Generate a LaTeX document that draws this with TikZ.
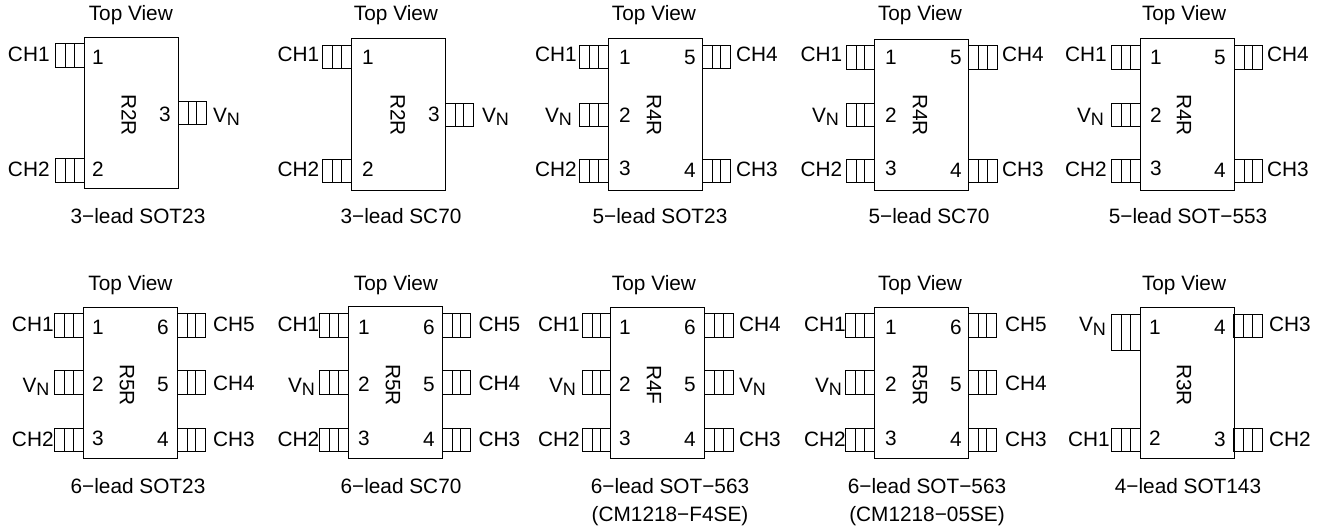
\documentclass[tikz,border=0pt]{standalone}
\usepackage{fontspec}
\setmainfont{Liberation Sans}
\newcommand{\VN}{V\raisebox{-3.5pt}{\fontsize{18}{20}\selectfont N}}
\tikzset{
  x=1pt,y=-1pt,
  every node/.style={inner sep=0pt,outer sep=0pt,font=\fontsize{20.8}{28}\selectfont},
  pkgbox/.style={draw,line width=1pt,anchor=north west,minimum width=94pt,minimum height=151.5pt},
  leadline/.style={line width=1pt},
  lab/.style={anchor=base west},
  pinno/.style={anchor=base},
  partmark/.style={anchor=center,rotate=-90,xshift=1pt},
  viewttl/.style={anchor=base},
  captxt/.style={anchor=base,align=center}
}
% body: id, left x, top y, top-view x, top-view baseline, mark x, mark y, mark text
\newcommand{\pkgbody}[8]{%
  \node[pkgbox] (#1) at (#2,#3) {};
  \node[viewttl] (#1t) at (#4,#5) {Top View};
  \node[partmark] (#1m) at (#6,#7) {#8};
}
\newcommand{\leadL}[3]{% body x, top y, height
  \draw[leadline] (#1-28.5,#2) rectangle (#1,#2+#3);
  \draw[leadline] (#1-18.5,#2) -- (#1-18.5,#2+#3) (#1-10,#2) -- (#1-10,#2+#3);
}
\newcommand{\leadR}[3]{%
  \draw[leadline] (#1,#2) rectangle (#1+28.5,#2+#3);
  \draw[leadline] (#1+10,#2) -- (#1+10,#2+#3) (#1+18.5,#2) -- (#1+18.5,#2+#3);
}
\begin{document}
\begin{tikzpicture}
\useasboundingbox (0,0) rectangle (1324,530);
% ---------- 3-lead SOT23
\pkgbody{a}{84.3}{37}{130.8}{20.7}{129}{114}{R2R}
\leadL{84.3}{43.3}{23.7}\leadL{84.3}{158.5}{23.7}\leadR{178.3}{101}{23.5}
\node[lab] (a1) at (8,61.7) {CH1};
\node[lab] (a2) at (8,176.7) {CH2};
\node[lab] (a3) at (213,122.3) {\VN};
\node[pinno] (a4) at (98,64) {1};
\node[pinno] (a5) at (98,176.7) {2};
\node[pinno] (a6) at (165,121.7) {3};
\node[captxt] (ac) at (138,223.3) {3−lead SOT23};
% ---------- 3-lead SC70
\pkgbody{b}{351}{38.5}{396}{20.7}{398}{114}{R2R}
\leadL{351}{45}{23.5}\leadL{351}{159}{23.5}\leadR{445}{103}{23.5}
\node[lab] (b1) at (277.5,61.7) {CH1};
\node[lab] (b2) at (277.5,176.7) {CH2};
\node[lab] (b3) at (482,122.3) {\VN};
\node[pinno] (b4) at (368,64) {1};
\node[pinno] (b5) at (368,176.7) {2};
\node[pinno] (b6) at (434,121.7) {3};
\node[captxt] (bc) at (401,223.3) {3−lead SC70};
% ---------- 5-lead SOT23
\pkgbody{c}{608}{38.5}{654}{20.7}{654}{114}{R4R}
\leadL{608}{45}{23.5}\leadL{608}{103}{23.5}\leadL{608}{159}{23.5}\leadR{702}{45}{23.5}\leadR{702}{159}{23.5}
\node[lab] (c1) at (535,61.7) {CH1};
\node[lab] (c2) at (545,122.3) {\VN};
\node[lab] (c3) at (535,176.7) {CH2};
\node[lab] (c4) at (736,61.7) {CH4};
\node[lab] (c5) at (736,176.7) {CH3};
\node[pinno] (c6) at (625,64) {1};
\node[pinno] (c7) at (625,122) {2};
\node[pinno] (c8) at (625,175) {3};
\node[pinno] (c9) at (690,64) {5};
\node[pinno] (c10) at (690,177) {4};
\node[captxt] (cc) at (660,223.3) {5−lead SOT23};
% ---------- 5-lead SC70
\pkgbody{d}{874.5}{39}{920}{20.7}{920}{114}{R4R}
\leadL{874.5}{45.5}{23.5}\leadL{874.5}{103}{23.5}\leadL{874.5}{159}{23.5}\leadR{968.5}{45.5}{23.5}\leadR{968.5}{159}{23.5}
\node[lab] (d1) at (800.5,61.7) {CH1};
\node[lab] (d2) at (812,122.3) {\VN};
\node[lab] (d3) at (800.5,176.7) {CH2};
\node[lab] (d4) at (1002,61.7) {CH4};
\node[lab] (d5) at (1002,176.7) {CH3};
\node[pinno] (d6) at (891,64) {1};
\node[pinno] (d7) at (891,122) {2};
\node[pinno] (d8) at (891,175) {3};
\node[pinno] (d9) at (956,64) {5};
\node[pinno] (d10) at (956,177) {4};
\node[captxt] (dc) at (929,223.3) {5−lead SC70};
% ---------- 5-lead SOT-553
\pkgbody{e}{1140}{38.5}{1184}{20.7}{1184}{114}{R4R}
\leadL{1140}{45.5}{23.5}\leadL{1140}{103}{23.5}\leadL{1140}{159}{23.5}\leadR{1234}{45.5}{23.5}\leadR{1234}{159}{23.5}
\node[lab] (e1) at (1065,61.7) {CH1};
\node[lab] (e2) at (1077,122.3) {\VN};
\node[lab] (e3) at (1065,176.7) {CH2};
\node[lab] (e4) at (1267,61.7) {CH4};
\node[lab] (e5) at (1267,176.7) {CH3};
\node[pinno] (e6) at (1156,64) {1};
\node[pinno] (e7) at (1156,122) {2};
\node[pinno] (e8) at (1156,175) {3};
\node[pinno] (e9) at (1220,64) {5};
\node[pinno] (e10) at (1220,177) {4};
\node[captxt] (ec) at (1188,223.3) {5−lead SOT−553};
% ---------- 6-lead SOT23
\pkgbody{f}{83}{307}{130.5}{290.7}{127}{384}{R5R}
\leadL{83}{313.5}{23.5}\leadL{83}{370.5}{23.5}\leadL{83}{428}{23.5}\leadR{177}{313.5}{23.5}\leadR{177}{370.5}{23.5}\leadR{177}{428}{23.5}
\node[lab] (f1) at (12,331.7) {CH1};
\node[lab] (f2) at (22.5,392) {\VN};
\node[lab] (f3) at (12,446.7) {CH2};
\node[lab] (f4) at (213,331.7) {CH5};
\node[lab] (f5) at (213,390.7) {CH4};
\node[lab] (f6) at (213,446.7) {CH3};
\node[pinno] (f7) at (98,334) {1};
\node[pinno] (f8) at (98,391.7) {2};
\node[pinno] (f9) at (98,445) {3};
\node[pinno] (f10) at (163,334) {6};
\node[pinno] (f11) at (163,391) {5};
\node[pinno] (f12) at (163,446.7) {4};
\node[captxt] (fc) at (138,493.3) {6−lead SOT23};
% ---------- 6-lead SC70
\pkgbody{g}{348}{306.5}{396}{290.7}{393}{384}{R5R}
\leadL{348}{313.5}{23.5}\leadL{348}{370.5}{23.5}\leadL{348}{428}{23.5}\leadR{442}{313.5}{23.5}\leadR{442}{370.5}{23.5}\leadR{442}{428}{23.5}
\node[lab] (g1) at (277.5,331.7) {CH1};
\node[lab] (g2) at (288,392) {\VN};
\node[lab] (g3) at (277.5,446.7) {CH2};
\node[lab] (g4) at (478.5,331.7) {CH5};
\node[lab] (g5) at (478.5,390.7) {CH4};
\node[lab] (g6) at (478.5,446.7) {CH3};
\node[pinno] (g7) at (364,334) {1};
\node[pinno] (g8) at (364,391.7) {2};
\node[pinno] (g9) at (364,445) {3};
\node[pinno] (g10) at (429,334) {6};
\node[pinno] (g11) at (429,391) {5};
\node[pinno] (g12) at (429,446.7) {4};
\node[captxt] (gc) at (401,493.3) {6−lead SC70};
% ---------- 6-lead SOT-563 F4SE
\pkgbody{h}{610.5}{307}{654}{290.7}{654}{384}{R4F}
\leadL{610.5}{313.5}{23.5}\leadL{610.5}{370.5}{23.5}\leadL{610.5}{428}{23.5}\leadR{704.5}{313.5}{23.5}\leadR{704.5}{370.5}{23.5}\leadR{704.5}{428}{23.5}
\node[lab] (h1) at (538,331.7) {CH1};
\node[lab] (h2) at (549,392) {\VN};
\node[lab] (h3) at (538,446.7) {CH2};
\node[lab] (h4) at (739,331.7) {CH4};
\node[lab] (h5) at (739,392) {\VN};
\node[lab] (h6) at (739,446.7) {CH3};
\node[pinno] (h7) at (625,334) {1};
\node[pinno] (h8) at (625,391.7) {2};
\node[pinno] (h9) at (625,445) {3};
\node[pinno] (h10) at (690,334) {6};
\node[pinno] (h11) at (690,391) {5};
\node[pinno] (h12) at (690,446.7) {4};
\node[captxt] (hc) at (670,493.3) {6−lead SOT−563};
\node[captxt] (hd) at (670,521) {(CM1218−F4SE)};
% ---------- 6-lead SOT-563 05SE
\pkgbody{i}{874}{307}{920}{290.7}{920}{384}{R5R}
\leadL{874}{313.5}{23.5}\leadL{874}{370.5}{23.5}\leadL{874}{428}{23.5}\leadR{968}{313.5}{23.5}\leadR{968}{370.5}{23.5}\leadR{968}{428}{23.5}
\node[lab] (i1) at (804,331.7) {CH1};
\node[lab] (i2) at (815,392) {\VN};
\node[lab] (i3) at (804,446.7) {CH2};
\node[lab] (i4) at (1005,331.7) {CH5};
\node[lab] (i5) at (1005,390.7) {CH4};
\node[lab] (i6) at (1005,446.7) {CH3};
\node[pinno] (i7) at (891,334) {1};
\node[pinno] (i8) at (891,391.7) {2};
\node[pinno] (i9) at (891,445) {3};
\node[pinno] (i10) at (956,334) {6};
\node[pinno] (i11) at (956,391) {5};
\node[pinno] (i12) at (956,446.7) {4};
\node[captxt] (ic) at (927,493.3) {6−lead SOT−563};
\node[captxt] (id) at (927,521) {(CM1218−05SE)};
% ---------- 4-lead SOT143
\pkgbody{j}{1140}{307}{1184}{290.7}{1184}{384}{R3R}
\leadL{1140}{314}{36.5}\leadL{1140}{428}{23.5}\leadR{1233.5}{314}{23.5}\leadR{1233.5}{428}{23.5}
\node[lab] (j1) at (1079,331.7) {\VN};
\node[lab] (j2) at (1068,446.7) {CH1};
\node[lab] (j3) at (1269,331.7) {CH3};
\node[lab] (j4) at (1269,446.7) {CH2};
\node[pinno] (j5) at (1155,334) {1};
\node[pinno] (j6) at (1155,445) {2};
\node[pinno] (j7) at (1220,446.7) {3};
\node[pinno] (j8) at (1220,334) {4};
\node[captxt] (jc) at (1188,493.3) {4−lead SOT143};
\end{tikzpicture}
\end{document}
